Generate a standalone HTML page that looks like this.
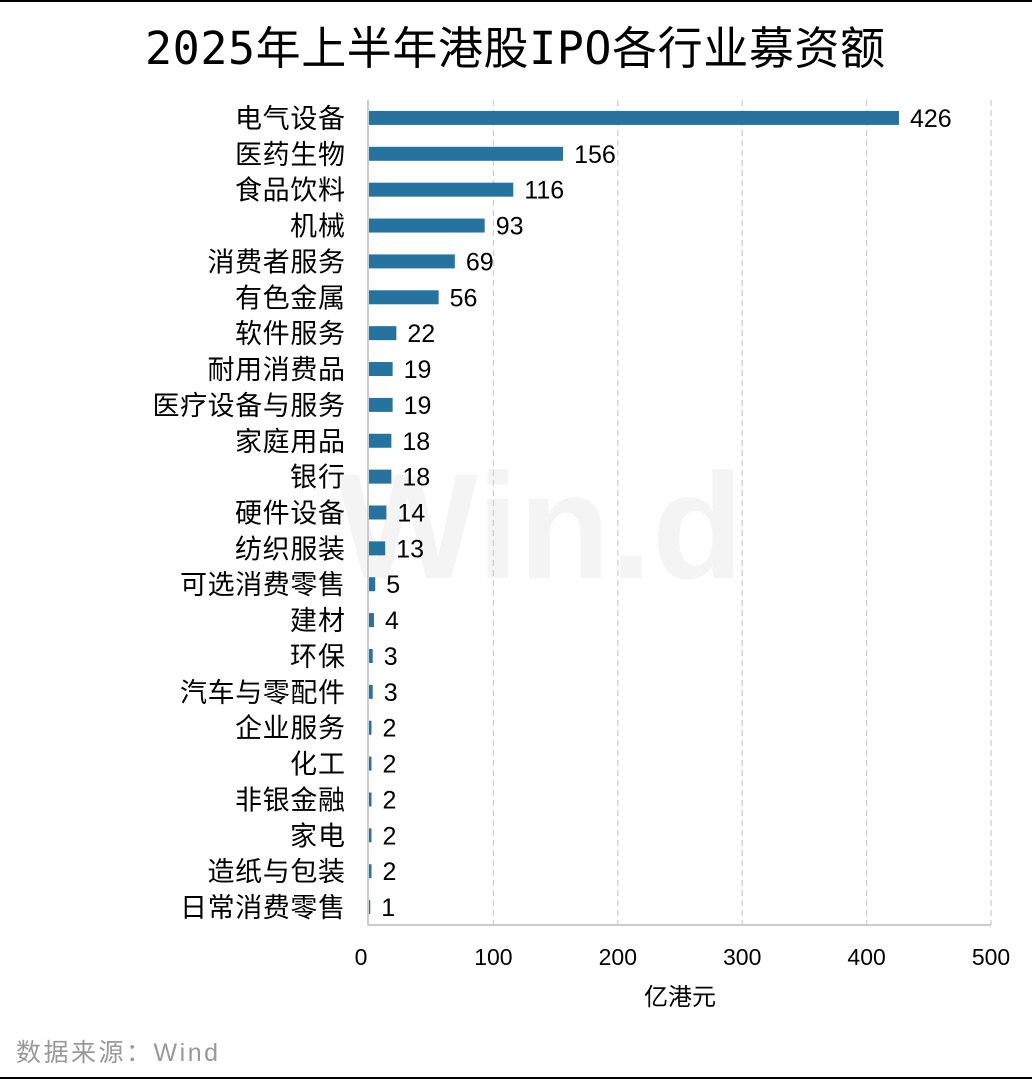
<!DOCTYPE html>
<html><head><meta charset="utf-8">
<style>
html,body{margin:0;padding:0;background:#fff;}
body{width:1032px;height:1080px;position:relative;overflow:hidden;font-family:"Liberation Sans","Noto Sans CJK SC",sans-serif;}
svg text{font-family:"Liberation Sans","Noto Sans CJK SC",sans-serif;}
</style></head>
<body>
<svg id="chart" width="1032" height="1080" xmlns="http://www.w3.org/2000/svg">
<line x1="0" y1="1" x2="1032" y2="1" stroke="#000" stroke-width="2"/>
<line x1="0" y1="1078" x2="1032" y2="1078" stroke="#000" stroke-width="2"/>
<text x="145" y="64" font-size="45" textLength="740" lengthAdjust="spacing" fill="#000" style="font-family:'DejaVu Sans Mono','Noto Sans CJK SC',monospace">2025年上半年港股IPO各行业募资额</text>
<text x="540" y="578" font-size="150" font-weight="bold" text-anchor="middle" fill="#f4f4f4">Win.d</text>
<g id="grid"></g>
<g id="bars"></g>
<g id="labels"></g>
<text x="680" y="1005" font-size="24" text-anchor="middle" fill="#000">亿港元</text>
<text x="16" y="1061" font-size="25" textLength="202" lengthAdjust="spacing" fill="#999">数据来源：Wind</text>
</svg>
<script>
const categories=["电气设备","医药生物","食品饮料","机械","消费者服务","有色金属","软件服务","耐用消费品","医疗设备与服务","家庭用品","银行","硬件设备","纺织服装","可选消费零售","建材","环保","汽车与零配件","企业服务","化工","非银金融","家电","造纸与包装","日常消费零售"];
const values=[426,156,116,93,69,56,22,19,19,18,18,14,13,5,4,3,3,2,2,2,2,2,1];
const xTicks=[0,100,200,300,400,500];
const NS="http://www.w3.org/2000/svg";
const x0=369,x1=991,yTop=100,yBot=925,xMax=500;
const xs=v=>x0+(x1-x0)*v/xMax;
const band=(yBot-yTop)/categories.length;
const yc=i=>yTop+band*(i+0.5);
function mk(tag,attrs){const e=document.createElementNS(NS,tag);for(const k in attrs)e.setAttribute(k,attrs[k]);return e;}
const grid=document.getElementById('grid'),bars=document.getElementById('bars'),labels=document.getElementById('labels');
xTicks.forEach(t=>{
  if(t>0){const l=mk('line',{x1:xs(t),y1:yTop,x2:xs(t),y2:yBot,stroke:'#d0d0d0','stroke-width':1.3,'stroke-dasharray':'6,4'});
  
  
  grid.appendChild(l);}
  const tx=mk('text',{x:xs(t)-(t===0?8:0),y:965,'font-size':23,'text-anchor':'middle',fill:'#000'});
  tx.textContent=t;
  
  
  grid.appendChild(tx);
});
const ya=mk('polyline',{points:`${x0-1},${yTop} ${x0-1},${yBot} ${x1},${yBot}`,fill:'none',stroke:'#bbb','stroke-width':1.5});


grid.appendChild(ya);
categories.forEach((c,i)=>{
  const y=yc(i);
  const r=mk('rect',{x:x0,y:y-7,width:Math.max(xs(values[i])-x0,1),height:14,fill:'#2673a0'});
  
  
  bars.appendChild(r);
  const v=mk('text',{x:xs(values[i])+11,y:y+9,'font-size':25,fill:'#000'});
  v.textContent=values[i];
  
  
  labels.appendChild(v);
  const w=c.length*27.5;
  const t=mk('text',{x:345-w,y:y+10,'font-size':27,textLength:w,lengthAdjust:'spacing',fill:'#000'});
  t.textContent=c;
  
  
  labels.appendChild(t);
});
</script>
</body></html>
